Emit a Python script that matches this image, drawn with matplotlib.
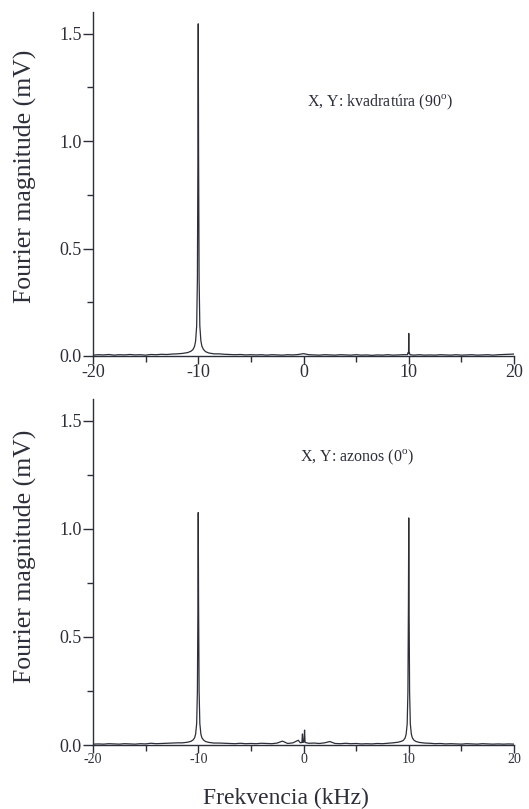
import numpy as np
import matplotlib
matplotlib.use("Agg")
import matplotlib.pyplot as plt
from matplotlib.ticker import MultipleLocator, FormatStrFormatter

plt.rcParams['font.family'] = ['Liberation Serif', 'DejaVu Serif']
plt.rcParams['mathtext.fontset'] = 'custom'
plt.rcParams['mathtext.rm'] = 'Liberation Serif'
plt.rcParams['axes.unicode_minus'] = False

INK = '#2c2f3a'

base_freq = np.arange(-20, 20.01, 0.5)
top_base = [0.004, 0.006, 0.005, 0.007, 0.004, 0.006, 0.005, 0.007, 0.005, 0.006,
            0.004, 0.007, 0.006, 0.008, 0.007, 0.009, 0.010, 0.012, 0.015, 0.020,
            0.030, 0.020, 0.015, 0.012, 0.010, 0.008, 0.007, 0.006, 0.007, 0.005,
            0.006, 0.005, 0.006, 0.004, 0.006, 0.005, 0.004, 0.006, 0.005, 0.007,
            0.011, 0.006, 0.005, 0.004, 0.006, 0.005, 0.004, 0.006, 0.005, 0.004,
            0.006, 0.004, 0.005, 0.003, 0.005, 0.004, 0.006, 0.004, 0.005, 0.006,
            0.005, 0.004, 0.006, 0.004, 0.005, 0.004, 0.006, 0.005, 0.004, 0.006,
            0.004, 0.005, 0.006, 0.004, 0.005, 0.006, 0.004, 0.006, 0.007, 0.008,
            0.009]
bot_base = [0.004, 0.005, 0.004, 0.006, 0.005, 0.004, 0.006, 0.005, 0.004, 0.006,
            0.005, 0.008, 0.006, 0.007, 0.008, 0.009, 0.010, 0.012, 0.014, 0.018,
            0.030, 0.018, 0.013, 0.011, 0.009, 0.008, 0.007, 0.006, 0.008, 0.006,
            0.007, 0.006, 0.008, 0.007, 0.006, 0.009, 0.018, 0.007, 0.010, 0.022,
            0.012, 0.008, 0.009, 0.007, 0.010, 0.016, 0.007, 0.006, 0.008, 0.006,
            0.007, 0.005, 0.006, 0.005, 0.007, 0.006, 0.008, 0.007, 0.009, 0.011,
            0.030, 0.011, 0.009, 0.007, 0.008, 0.006, 0.007, 0.005, 0.006, 0.005,
            0.004, 0.006, 0.005, 0.004, 0.006, 0.005, 0.004, 0.005, 0.004, 0.005,
            0.004]

# line shapes of the peaks (offset from peak centre in kHz, magnitude in mV)
peak_offset = [-1.5, -1.0, -0.7, -0.5, -0.35, -0.25, -0.15, -0.08, -0.03, 0.0,
               0.03, 0.08, 0.15, 0.25, 0.35, 0.5, 0.7, 1.0, 1.5]
top_peak_m10 = [0.012, 0.016, 0.022, 0.030, 0.045, 0.070, 0.140, 0.360, 0.950, 1.545,
                0.950, 0.360, 0.140, 0.070, 0.045, 0.030, 0.020, 0.014, 0.010]
bot_peak_m10 = [0.010, 0.013, 0.017, 0.023, 0.033, 0.050, 0.100, 0.250, 0.660, 1.075,
                0.660, 0.250, 0.100, 0.050, 0.033, 0.023, 0.016, 0.012, 0.009]
bot_peak_p10 = [0.010, 0.013, 0.017, 0.022, 0.032, 0.049, 0.097, 0.245, 0.650, 1.050,
                0.650, 0.245, 0.097, 0.049, 0.032, 0.022, 0.016, 0.012, 0.009]

spike_offset = [-0.12, -0.05, -0.02, 0.0, 0.02, 0.05, 0.12]
top_spike_p10 = [0.006, 0.016, 0.012, 0.105, 0.012, 0.016, 0.006]

dc_freq = [-0.3, -0.15, -0.1, -0.05, 0.0, 0.05, 0.1, 0.15, 0.3]
dc_mag = [0.010, 0.012, 0.051, 0.012, 0.020, 0.015, 0.069, 0.012, 0.010]


def build(base, parts):
    f = np.asarray(base_freq, dtype=float)
    m = np.asarray(base, dtype=float)
    keep = np.ones(len(f), dtype=bool)
    xs, ys = [], []
    for px, py in parts:
        px = np.asarray(px, dtype=float)
        keep &= ~((f >= px.min()) & (f <= px.max()))
        xs.append(px)
        ys.append(np.asarray(py, dtype=float))
    xs.append(f[keep])
    ys.append(m[keep])
    x = np.concatenate(xs)
    y = np.concatenate(ys)
    order = np.argsort(x)
    return x[order], y[order]


off = np.asarray(peak_offset)
soff = np.asarray(spike_offset)
top_x, top_y = build(top_base, [(off - 10, top_peak_m10), (soff + 10, top_spike_p10)])
bot_x, bot_y = build(bot_base, [(off - 10, bot_peak_m10), (off + 10, bot_peak_p10),
                                (dc_freq, dc_mag)])

W, H = 529, 809
fig = plt.figure(figsize=(W / 100, H / 100), dpi=100)
ax1 = fig.add_axes([93 / W, 1 - 356 / H, 421 / W, 344 / H])
ax2 = fig.add_axes([93 / W, 1 - 745 / H, 421 / W, 346 / H])

for ax, x, y, xfs in [(ax1, top_x, top_y, 13), (ax2, bot_x, bot_y, 10)]:
    ax.plot(x, y, color=INK, lw=0.9)
    ax.set_xlim(-20, 20)
    ax.set_ylim(0, 1.6)
    for s in ['top', 'right']:
        ax.spines[s].set_visible(False)
    for s in ['left', 'bottom']:
        ax.spines[s].set_color(INK)
        ax.spines[s].set_linewidth(1.0)
    ax.xaxis.set_major_locator(MultipleLocator(10))
    ax.xaxis.set_minor_locator(MultipleLocator(5))
    ax.yaxis.set_major_locator(MultipleLocator(0.5))
    ax.yaxis.set_minor_locator(MultipleLocator(0.25))
    ax.yaxis.set_major_formatter(FormatStrFormatter('%.1f'))
    ax.tick_params(axis='both', which='major', direction='out', color=INK,
                   labelcolor=INK, width=1.0)
    ax.tick_params(axis='both', which='minor', direction='out', color=INK, width=1.0)
    ax.tick_params(axis='y', which='major', length=7, labelsize=13, pad=1)
    ax.tick_params(axis='y', which='minor', length=4)
    ax.tick_params(axis='x', which='major', length=6, labelsize=xfs, pad=0)
    ax.tick_params(axis='x', which='minor', length=4)

ax1.text(0.33, 1.18, 'X, Y: kvadratúra (90$^{\\mathrm{o}}$)', fontsize=11.5,
         color=INK, va='center', ha='left')
ax2.text(-0.33, 1.33, 'X, Y: azonos (0$^{\\mathrm{o}}$)', fontsize=11.5,
         color=INK, va='center', ha='left')

fig.text(25 / W, 1 - 176 / H, 'Fourier magnitude (mV)', rotation=90, fontsize=18.5,
         color=INK, ha='center', va='center')
fig.text(25 / W, 1 - 556 / H, 'Fourier magnitude (mV)', rotation=90, fontsize=18.5,
         color=INK, ha='center', va='center')
fig.text(286 / W, 1 - 798 / H, 'Frekvencia (kHz)', fontsize=17, color=INK,
         ha='center', va='center')

fig.savefig('out.png', dpi=100)
